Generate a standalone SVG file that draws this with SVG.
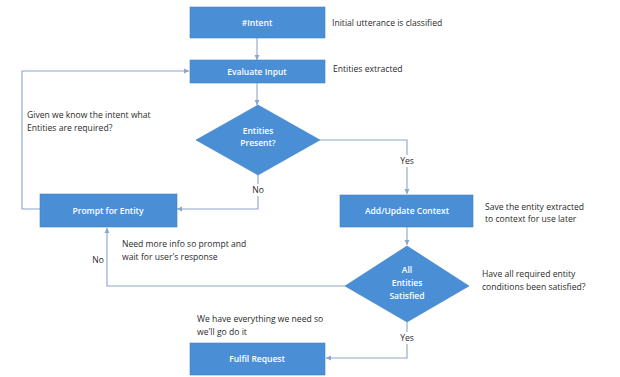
<svg xmlns="http://www.w3.org/2000/svg" width="620" height="377" viewBox="0 0 620 377">
<style>
.box{fill:#4a8fd6;stroke:#3f7fc4;stroke-width:0.6}
.bt{font-family:"Open Sans","Liberation Sans",sans-serif;font-size:8.5px;font-weight:600;fill:#fff;text-anchor:middle}
.lb{font-family:"Open Sans","Liberation Sans",sans-serif;font-size:8.6px;fill:#2a2a2a}
.ln{fill:none;stroke:#8aa6c8;stroke-width:1.1}
</style>
<defs>
<marker id="ah" markerWidth="6" markerHeight="6" refX="5" refY="3" orient="auto" markerUnits="userSpaceOnUse">
<path d="M0,0.5 L5,3 L0,5.5 z" fill="#8aa6c8"/>
</marker>
</defs>
<rect width="620" height="377" fill="#fff"/>
<g id="connectors">
<path class="ln" d="M257,38 V60" marker-end="url(#ah)"/>
<path class="ln" d="M257,83 V105" marker-end="url(#ah)"/>
<path class="ln" d="M320,140 H407 V194" marker-end="url(#ah)"/>
<path class="ln" d="M258,175 V209 H177" marker-end="url(#ah)"/>
<path class="ln" d="M40,209 H22 V71 H189" marker-end="url(#ah)"/>
<path class="ln" d="M407,227 V245" marker-end="url(#ah)"/>
<path class="ln" d="M345,286 H107 V228" marker-end="url(#ah)"/>
<path class="ln" d="M407,322 V358 H326" marker-end="url(#ah)"/>
<rect x="396" y="155" width="22" height="12" fill="#fff"/>
<text class="lb" x="407" y="164" text-anchor="middle">Yes</text>
<rect x="248" y="184" width="20" height="12" fill="#fff"/>
<text class="lb" x="258" y="193" text-anchor="middle">No</text>
<text class="lb" x="98" y="263" text-anchor="middle">No</text>
<rect x="396" y="332" width="22" height="12" fill="#fff"/>
<text class="lb" x="407" y="341" text-anchor="middle">Yes</text>
</g>
<g id="intent">
<rect class="box" x="190" y="7" width="135" height="31"/>
<text class="bt" x="257" y="26">#Intent</text>
</g>
<g id="evaluate">
<rect class="box" x="190" y="60" width="135" height="23"/>
<text class="bt" x="257" y="74.5">Evaluate Input</text>
</g>
<g id="entities-present">
<polygon class="box" points="258,105 320,140 258,175 196,140"/>
<text class="bt" x="258" y="134">Entities</text>
<text class="bt" x="258" y="146">Present?</text>
</g>
<g id="prompt">
<rect class="box" x="40" y="194" width="137" height="33"/>
<text class="bt" x="108" y="214">Prompt for Entity</text>
</g>
<g id="add-update">
<rect class="box" x="340" y="195" width="133" height="32"/>
<text class="bt" x="407" y="214">Add/Update Context</text>
</g>
<g id="all-satisfied">
<polygon class="box" points="407,246 469,286 407,322 345,286"/>
<text class="bt" x="407" y="273">All</text>
<text class="bt" x="407" y="286">Entities</text>
<text class="bt" x="407" y="299">Satisfied</text>
</g>
<g id="fulfil">
<rect class="box" x="190" y="343" width="135" height="32"/>
<text class="bt" x="257" y="362">Fulfil Request</text>
</g>
<g id="notes">
<text class="lb" x="332" y="26">Initial utterance is classified</text>
<text class="lb" x="333" y="72">Entities extracted</text>
<text class="lb" x="27" y="118">Given we know the intent what</text>
<text class="lb" x="27" y="131">Entities are required?</text>
<text class="lb" x="485" y="210">Save the entity extracted</text>
<text class="lb" x="485" y="222">to context for use later</text>
<text class="lb" x="122" y="247">Need more info so prompt and</text>
<text class="lb" x="122" y="260">wait for user's response</text>
<text class="lb" x="482" y="277">Have all required entity</text>
<text class="lb" x="482" y="290">conditions been satisfied?</text>
<text class="lb" x="197" y="322">We have everything we need so</text>
<text class="lb" x="197" y="335">we'll go do it</text>
</g>
</svg>
